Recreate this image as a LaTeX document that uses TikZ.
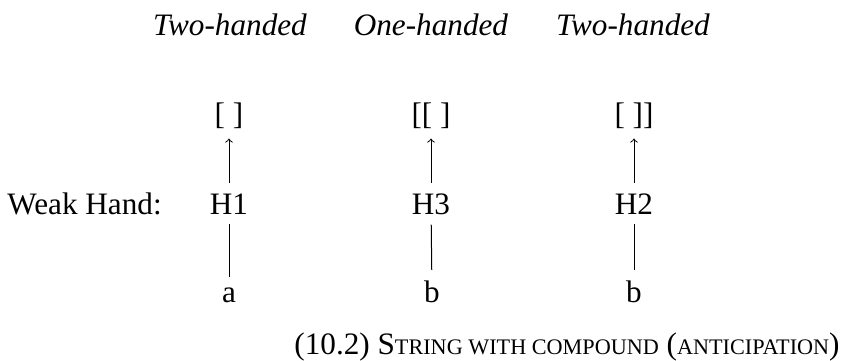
\documentclass[tikz,border=0pt]{standalone}
\usepackage{fontspec}
\setmainfont{Liberation Serif}
\usetikzlibrary{arrows,positioning}
\newcommand{\smallcap}[1]{{\fontsize{11.1}{13}\selectfont #1}}

\begin{document}
\begin{tikzpicture}[x=0.5pt,y=0.5pt]
                \tikzstyle{every node}+=[inner sep=5pt,anchor=base,font=\fontsize{15.6}{18}\selectfont]
                \useasboundingbox (0,0) rectangle (843,-360);
                \node (two1) at (230,-35) {\textit{Two-handed}};
                \node (one) at (431,-35) {\textit{One-handed}};
                \node (two2) at (633,-35) {\textit{Two-handed}};
                \node (br1) at (229,-124) {[ ]};
                \node (br3) at (431,-124) {[[ ]};
                \node (br2) at (634,-124) {[ ]]};
                \node [anchor=base west,inner sep=0pt] (weak) at (7,-214) {Weak Hand:};
                \node (h1) at (229,-214) {H1};
                \node (h3) at (431,-214) {H3};
                \node (h2) at (634,-214) {H2};
                \node (a1) at (229,-302) {a};
                \node (b3) at (432,-302) {b};
                \node (b2) at (634,-302) {b};
                \draw [black,line width=0.5pt,->] (h1) -- (br1);
                \draw [black,line width=0.5pt,->] (h3) -- (br3);
                \draw [black,line width=0.5pt,->] (h2) -- (br2);
                \draw [black,line width=0.5pt] (h1) -- (a1);
                \draw [black,line width=0.5pt] (h3) -- (b3);
                \draw [black,line width=0.5pt] (h2) -- (b2);
                \node [anchor=base east,inner sep=0pt] (caption) at (840,-354)
                  {(10.2) S\smallcap{TRING WITH COMPOUND} (\smallcap{ANTICIPATION})};
            \end{tikzpicture}
\end{document}
